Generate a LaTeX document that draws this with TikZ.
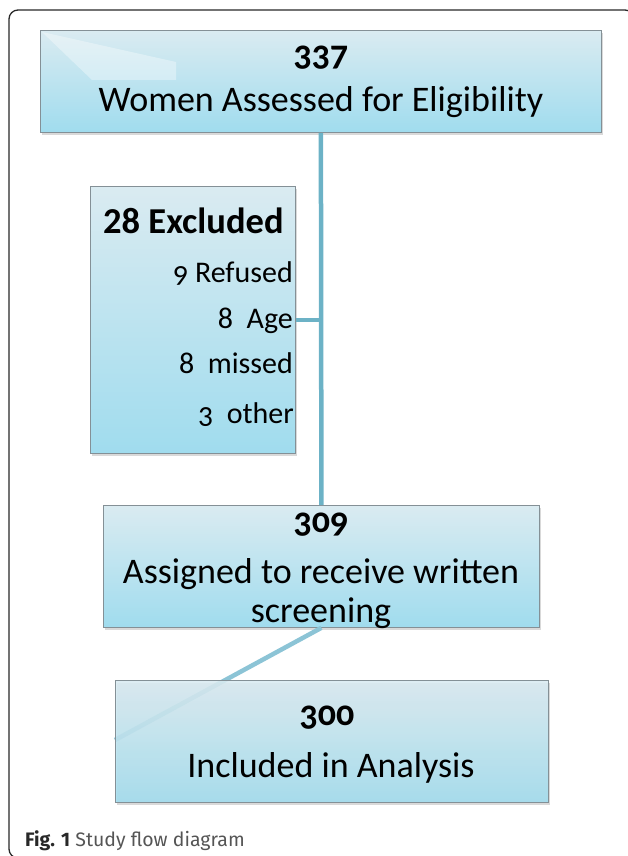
\documentclass[tikz,border=0pt]{standalone}
\usepackage{fontspec}
\setmainfont{Carlito}
\newfontfamily\oldnum[Numbers=OldStyle]{Carlito}
\newfontfamily\capfont{Fira Sans}
\usetikzlibrary{shadows}
\definecolor{boxtop}{RGB}{218,235,241}
\definecolor{boxbot}{RGB}{160,220,238}
\definecolor{boxline}{RGB}{132,144,150}
\definecolor{conn}{RGB}{108,178,198}
\definecolor{conn2}{RGB}{140,196,214}
\definecolor{framec}{RGB}{40,40,40}
\definecolor{capgray}{RGB}{85,85,85}
\begin{document}
\begin{tikzpicture}[x=1pt,y=-1pt]
\useasboundingbox (0,0) rectangle (627,856);
\tikzset{
  flowbox/.style 2 args={draw=boxline, line width=0.8pt, top color=boxtop, bottom color=boxbot,
    minimum width=#1, minimum height=#2, inner sep=0pt, anchor=north west,
    drop shadow={shadow xshift=1.5pt, shadow yshift=-2.5pt, opacity=0.3}},
  bigtxt/.style={inner sep=0pt, anchor=base, font=\fontsize{36}{40}\selectfont},
  numtxt/.style={inner sep=0pt, anchor=base, font=\oldnum\bfseries\fontsize{36}{40}\selectfont},
  itemtxt/.style={inner sep=0pt, anchor=base east, font=\fontsize{30}{33}\selectfont},
  connline/.style={draw=conn, line width=4.5pt},
  connline2/.style={draw=conn2, line width=4.5pt},
}
% frame
\draw[framec, line width=1.3pt, rounded corners=9pt] (9,10) rectangle (634,858);
% boxes
\node[flowbox={561pt}{102pt}] (b337) at (40,30) {};
\fill[white, opacity=0.35] (42,32) -- (176,62) -- (176,80) -- (92,80) -- cycle;
\node[flowbox={205pt}{267pt}] (bexc) at (90,186) {};
\node[flowbox={436pt}{122pt}] (b309) at (103,505) {};
% connectors
\draw[connline] (b337.south) -- (b309.north);
\draw[connline] (bexc.east) -- (bexc.east -| b337.south);
\coordinate (b300west) at (115,740);
\draw[connline2] (b309.south) -- (b300west);
% last box drawn over the diagonal, slightly transparent
\node[flowbox={433pt}{122pt}, fill opacity=0.88] (b300) at (115,680) {};
% texts
\node[numtxt] (t337) at (321,66) {337};
\node[bigtxt] (t337b) at (321,112) {Women Assessed for Eligibility};
\node[inner sep=0pt, anchor=base west, font=\bfseries\fontsize{36.5}{40}\selectfont] (texc) at (103,233) {28 Excluded};
\node[itemtxt] (ti1) at (293,282) {{\oldnum 9} Refused};
\node[itemtxt] (ti2) at (293,328) {8\ \ Age};
\node[itemtxt] (ti3) at (293,373) {8\ \ missed};
\node[itemtxt] (ti4) at (294,423) {{\oldnum 3}\ \ other};
\node[numtxt] (t309) at (321,532) {309};
\node[bigtxt] (t309b) at (321,583) {Assigned to receive written};
\node[bigtxt] (t309c) at (321,622) {screening};
\node[numtxt] (t300) at (327,725) {300};
\node[bigtxt] (t300b) at (331,777) {Included in Analysis};
\node[inner sep=0pt, anchor=base west, font=\capfont\fontsize{19.5}{22}\selectfont, text=capgray] (cap) at (25,846)
  {\textcolor{framec}{\bfseries Fig. 1} Study flow diagram};
\end{tikzpicture}
\end{document}
